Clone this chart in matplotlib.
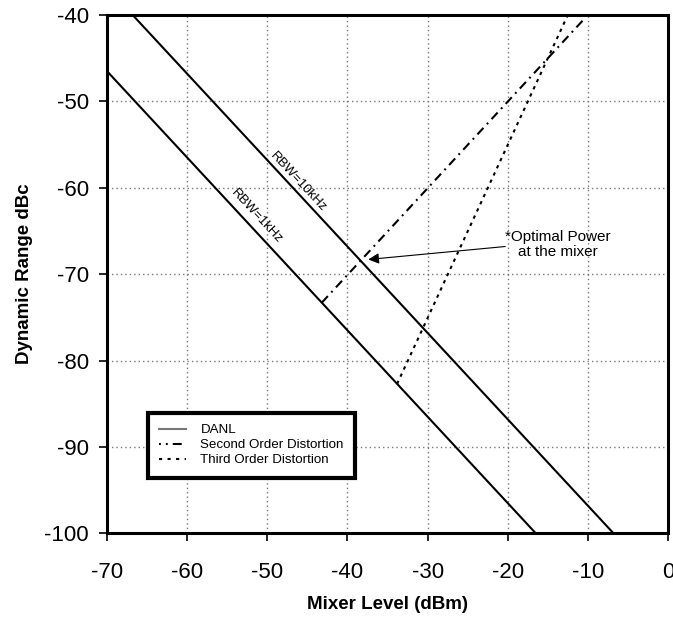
import matplotlib
matplotlib.use("Agg")
import matplotlib.pyplot as plt
from matplotlib.lines import Line2D

plt.rcParams['font.family'] = ['Liberation Sans', 'DejaVu Sans']

# Data (endpoints of each curve, in dBm / dBc)
danl_10k_x = [-66.8, -6.8]
danl_10k_y = [-40.0, -100.0]
danl_1k_x = [-70.0, -16.5]
danl_1k_y = [-46.5, -100.0]
second_x = [-43.2, -10.3]
second_y = [-73.3, -40.3]
third_x = [-33.8, -12.5]
third_y = [-82.7, -40.0]

x_ticks = [-70, -60, -50, -40, -30, -20, -10, 0]
y_ticks = [-100, -90, -80, -70, -60, -50, -40]

fig = plt.figure(figsize=(6.73, 6.17), dpi=100)
ax = fig.add_axes([107/673, 1-533.3/617, 561/673, 518.3/617])

ax.set_xlim(-70, 0)
ax.set_ylim(-100, -40)
ax.set_xticks(x_ticks)
ax.set_yticks(y_ticks)
ax.set_xticklabels([str(v) for v in x_ticks])
ax.set_yticklabels([str(v) for v in y_ticks])
ax.tick_params(axis='both', labelsize=16, length=6, width=1.2, direction='out')
ax.tick_params(axis='x', pad=15)
ax.tick_params(axis='y', pad=7)
for s in ax.spines.values():
    s.set_linewidth(2.2)

ax.grid(True, color='#777777', linestyle=(0, (1, 2.2)), linewidth=1.0)
ax.set_axisbelow(True)

lw = 1.5
ax.plot(danl_10k_x, danl_10k_y, color='black', lw=lw, solid_capstyle='butt')
ax.plot(danl_1k_x, danl_1k_y, color='black', lw=lw, solid_capstyle='butt')
ax.plot(second_x, second_y, color='black', lw=lw,
        linestyle=(0, (4.3, 2.4, 0.9, 2.4)))
ax.plot(third_x, third_y, color='black', lw=lw,
        linestyle=(0, (1.6, 2.2)))

ax.text(-46.1, -59.3, 'RBW=10kHz', rotation=-45, transform_rotates_text=True,
        rotation_mode='anchor', ha='center', va='center', fontsize=9.5)
ax.text(-51.3, -63.3, 'RBW=1kHz', rotation=-45, transform_rotates_text=True,
        rotation_mode='anchor', ha='center', va='center', fontsize=9.5)

ax.text(-13.7, -66.6, '*Optimal Power\nat the mixer', ha='center', va='center',
        fontsize=11, linespacing=1.1)
ax.annotate('', xy=(-37.4, -68.3), xytext=(-20.3, -66.8),
            arrowprops=dict(arrowstyle='-|>', color='black', lw=0.8,
                            mutation_scale=16, shrinkA=0, shrinkB=0))

ax.set_xlabel('Mixer Level (dBm)', fontsize=13.5, fontweight='bold', labelpad=9)
ax.set_ylabel('Dynamic Range dBc', fontsize=13.5, fontweight='bold', labelpad=8)

handles = [
    Line2D([], [], color='#777777', lw=1.5),
    Line2D([], [], color='black', lw=1.5, linestyle=(0, (0.9, 2.4, 0.9, 2.4, 4.3, 2.4))),
    Line2D([], [], color='black', lw=1.5, linestyle=(0, (1.5, 2.6))),
]
labels = ['DANL', 'Second Order Distortion', 'Third Order Distortion']
leg = ax.legend(handles, labels, loc='upper left', bbox_to_anchor=(0.0727, 0.233),
                borderaxespad=0, fontsize=9.6, frameon=True, fancybox=False,
                edgecolor='black', framealpha=1, labelspacing=0.2,
                handlelength=2.0, handletextpad=1.1, borderpad=0.85)
leg.get_frame().set_linewidth(3.0)

fig.savefig('out.png', dpi=100)
